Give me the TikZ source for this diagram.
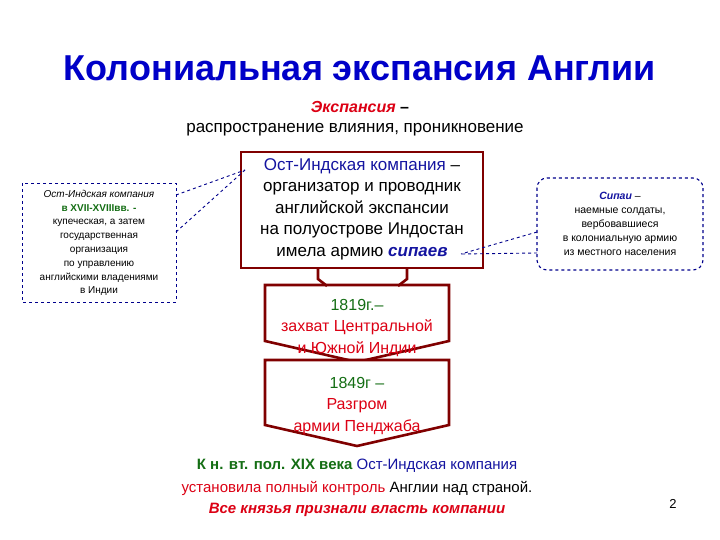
\documentclass[tikz,border=0pt]{standalone}
\usepackage{fontspec}
\setmainfont{Liberation Sans}
\begin{document}
\begin{tikzpicture}[x=1pt,y=-1pt]
\definecolor{ttl}{RGB}{0,0,200}
\definecolor{dred}{RGB}{128,0,0}
\definecolor{navy}{RGB}{0,0,140}
\definecolor{rd}{RGB}{220,0,20}
\definecolor{gr}{RGB}{20,110,20}
\definecolor{bl}{RGB}{20,20,160}
\tikzset{
 txt/.style={inner sep=0pt,align=center},
 frame/.style={draw=dred,line width=2.6pt,fill=white,line join=miter},
 dsh/.style={draw=navy,dashed,line width=1.1pt},
}
\useasboundingbox (0,0) rectangle (720,540);
\fill[white] (0,0) rectangle (720,540);
% title
\node[txt,text=ttl,font=\fontsize{36}{40}\selectfont\bfseries] (title) at (360,68) {Колониальная экспансия Англии};
\node[txt,font=\fontsize{16}{19}\selectfont] (exp) at (360,107) {\textcolor{rd}{\bfseries\itshape Экспансия} \textbf{–}};
\node[txt,font=\fontsize{17}{20}\selectfont] (def) at (355,130) {распространение влияния, проникновение};
% left box
\draw[draw=navy,dashed,line width=0.8pt] (22,183) rectangle (176,302);
\node[txt,font=\fontsize{10}{13.8}\selectfont] (lt) at (99,243) {\textit{Ост-Индская компания}\\ \textcolor{gr}{\bfseries в XVII-XVIIIвв. -}\\ купеческая, а затем\\ государственная\\ организация\\ по управлению\\ английскими владениями\\ в Индии};
% right box
\draw[dsh,rounded corners=10pt] (537,178) rectangle (703,270);
\node[txt,font=\fontsize{10.5}{14}\selectfont] (rt) at (620,224) {\textcolor{bl}{\bfseries\itshape Сипаи} –\\ наемные солдаты,\\ вербовавшиеся\\ в колониальную армию\\ из местного населения};
% arrow boxes
\draw[frame] (265,285) -- (449,285) -- (449,341) -- (357,362) -- (265,341) -- cycle;
\draw[frame] (265,360) -- (449,360) -- (449,425) -- (357,446) -- (265,425) -- cycle;
% stem tabs
\draw[frame,fill=none] (318,268) -- (318,279) -- (327,286);
\draw[frame,fill=none] (407,268) -- (407,279) -- (398,286);
% main box
\draw[frame] (241,152) rectangle (483,268);
\node[txt,font=\fontsize{17}{21.5}\selectfont] (mt) at (362,209) {\textcolor{bl}{Ост-Индская компания} –\\ организатор и проводник\\ английской экспансии\\ на полуострове Индостан\\ имела армию \textcolor{bl}{\bfseries\itshape сипаев}};
\node[txt,font=\fontsize{16}{21.5}\selectfont] (a1) at (357,328) {\textcolor{gr}{1819г.–}\\ \textcolor{rd}{захват Центральной}\\ \textcolor{rd}{и Южной Индии}};
\node[txt,font=\fontsize{16}{21.5}\selectfont] (a2) at (357,406) {\textcolor{gr}{1849г –}\\ \textcolor{rd}{Разгром}\\ \textcolor{rd}{армии Пенджаба}};
% connectors
\coordinate (l1) at (176,195); \coordinate (l2) at (176,232); \coordinate (m1) at (245,170);
\coordinate (r1) at (537,232); \coordinate (r2) at (537,253); \coordinate (m2) at (461,254);
\draw[dsh,line width=0.9pt] (l1) -- (m1); \draw[dsh,line width=0.9pt] (l2) -- (m1);
\draw[dsh,line width=0.9pt] (r1) -- (m2); \draw[dsh,line width=0.9pt] (r2) -- (m2);
% bottom
\node[txt,font=\fontsize{15}{18}\selectfont] (b1) at (357,466) {\textcolor{gr}{\bfseries К н. вт. пол. XIX века} \textcolor{bl}{Ост-Индская компания}};
\node[txt,font=\fontsize{15}{18}\selectfont] (b2) at (357,488) {\textcolor{rd}{установила полный контроль} Англии над страной.};
\node[txt,font=\fontsize{15}{18}\selectfont] (b3) at (357,510) {\textcolor{rd}{\bfseries\itshape Все князья признали власть компании}};
\node[txt,font=\fontsize{13}{15}\selectfont] (pg) at (673,504) {2};
\end{tikzpicture}
\end{document}
